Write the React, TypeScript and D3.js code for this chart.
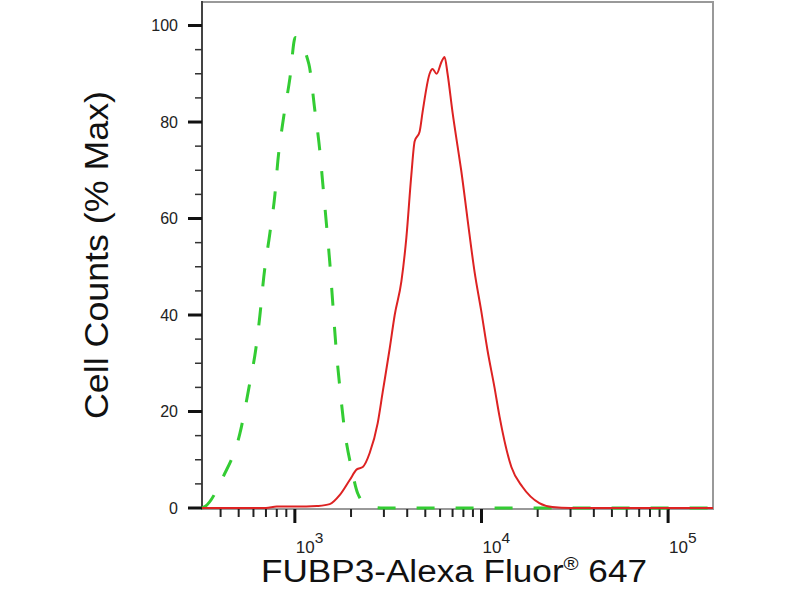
import { useEffect, useRef } from "react"
import * as d3 from "d3"

// Isotype control (green dashed): fluorescence intensity vs % max
const controlIntensity = [318, 330, 412, 508, 574, 618, 650, 682, 735, 782, 811, 863, 940, 1005, 1189, 1279, 1361, 1413, 1483, 1538, 1596, 1656, 1742, 1849, 2018, 2173, 2455, 3000, 10000, 174000]
const controlCounts = [0, 0.3, 6.4, 15.5, 26, 33, 40, 48, 57, 65, 72, 80, 89, 97.5, 92, 82.5, 74, 67, 58, 51, 42.5, 34, 25, 16, 8, 3, 0.5, 0, 0, 0]

// FUBP3 stained sample (red)
const sampleIntensity = [318, 700, 800, 1150, 1312, 1538, 1742, 1968, 2147, 2311, 2517, 2779, 2955, 3221, 3428, 3724, 3957, 4208, 4385, 4660, 4832, 5272, 5470, 5745, 6109, 6342, 6580, 6998, 7444, 7785, 8410, 9178, 9954, 10770, 11740, 12490, 14460, 16560, 20420, 23970, 30000, 174000]
const sampleCounts = [0, 0, 0.3, 0.3, 0.4, 0.8, 2.7, 5.8, 8, 8.5, 11.4, 17.6, 24, 33, 40, 47, 56, 69, 76, 78, 82, 90, 91, 90, 92.5, 93.5, 90, 82, 75, 70, 60, 49, 41, 32.7, 25, 19, 8.5, 4.4, 1, 0.2, 0, 0]

const yMajorTicks = [0, 20, 40, 60, 80, 100]
const decadeTicks = [1000, 10000, 100000]
const decadeExponents = ["3", "4", "5"]

export default function App() {
  const svgRef = useRef<SVGSVGElement>(null)

  useEffect(() => {
    if (!svgRef.current) return
    const root = d3.select(svgRef.current)
    root.selectAll("*").remove()

    const left = 202
    const right = 713
    const top = 2
    const bottom = 508

    const x = d3.scaleLog().domain([318, 174000]).range([left, right])
    const y = d3.scaleLinear().domain([0, 105]).range([bottom, top - 0.6])

    // frame
    root
      .append("rect")
      .attr("x", left)
      .attr("y", top)
      .attr("width", right - left)
      .attr("height", bottom + 1 - top)
      .attr("fill", "#fff")
      .attr("stroke", "#999")
      .attr("stroke-width", 2)

    // left axis line
    root
      .append("line")
      .attr("x1", left)
      .attr("x2", left)
      .attr("y1", top - 1)
      .attr("y2", bottom + 1)
      .attr("stroke", "#444")
      .attr("stroke-width", 2)

    // y ticks
    const yMinor = d3.range(0, 105, 5).filter((v) => v % 20 !== 0)
    root
      .selectAll(".ymin")
      .data(yMinor)
      .enter()
      .append("line")
      .attr("x1", left - 7)
      .attr("x2", left)
      .attr("y1", (d) => y(d))
      .attr("y2", (d) => y(d))
      .attr("stroke", "#333")
      .attr("stroke-width", 1.5)

    root
      .selectAll(".ymaj")
      .data(yMajorTicks)
      .enter()
      .append("line")
      .attr("x1", left - 14)
      .attr("x2", left)
      .attr("y1", (d) => y(d))
      .attr("y2", (d) => y(d))
      .attr("stroke", "#111")
      .attr("stroke-width", 3)

    root
      .selectAll(".ylab")
      .data(yMajorTicks)
      .enter()
      .append("text")
      .attr("x", left - 24)
      .attr("y", (d) => y(d))
      .attr("dy", "0.36em")
      .attr("text-anchor", "end")
      .style("font-family", "Liberation Sans, Arial, sans-serif")
      .style("font-size", "16px")
      .style("fill", "#222")
      .text((d) => d)

    // x ticks (log minor)
    const minor: number[] = []
    for (const dec of [100, 1000, 10000, 100000]) {
      for (let m = 2; m <= 9; m++) {
        const v = dec * m
        if (v > 318 && v < 174000) minor.push(v)
      }
    }
    root
      .selectAll(".xmin")
      .data(minor)
      .enter()
      .append("line")
      .attr("x1", (d) => x(d))
      .attr("x2", (d) => x(d))
      .attr("y1", bottom + 1)
      .attr("y2", bottom + 9)
      .attr("stroke", "#222")
      .attr("stroke-width", 2)

    root
      .selectAll(".xmaj")
      .data(decadeTicks)
      .enter()
      .append("line")
      .attr("x1", (d) => x(d))
      .attr("x2", (d) => x(d))
      .attr("y1", bottom + 1)
      .attr("y2", bottom + 15)
      .attr("stroke", "#111")
      .attr("stroke-width", 3)

    const xl = root
      .selectAll(".xlab")
      .data(decadeTicks)
      .enter()
      .append("text")
      .attr("x", (d) => x(d) + 1)
      .attr("y", 552.5)
      .attr("text-anchor", "start")
      .style("font-family", "Liberation Sans, Arial, sans-serif")
      .style("fill", "#222")
    xl.append("tspan").style("font-size", "17px").text("10")
    xl.append("tspan")
      .attr("dy", -10)
      .style("font-size", "15.5px")
      .text((d, i) => decadeExponents[i])

    // curves
    const line = d3
      .line<[number, number]>()
      .x((d) => x(d[0]))
      .y((d) => y(d[1]))
      .curve(d3.curveMonotoneX)

    const control = controlIntensity.map((v, i) => [v, controlCounts[i]] as [number, number])
    const sample = sampleIntensity.map((v, i) => [v, sampleCounts[i]] as [number, number])

    root
      .append("path")
      .datum(control)
      .attr("fill", "none")
      .attr("stroke", "#33cc33")
      .attr("stroke-width", 3)
      .attr("stroke-dasharray", "18,21")
      .attr("d", line)

    root
      .append("path")
      .datum(sample)
      .attr("fill", "none")
      .attr("stroke", "#dd2222")
      .attr("stroke-width", 2)
      .attr("d", line)

    // axis titles
    root
      .append("text")
      .attr("transform", "translate(108,255) rotate(-90)")
      .attr("text-anchor", "middle")
      .attr("textLength", 328)
      .attr("lengthAdjust", "spacingAndGlyphs")
      .style("font-family", "Liberation Sans, Arial, sans-serif")
      .style("font-size", "33px")
      .style("fill", "#111")
      .text("Cell Counts (% Max)")

    const xt = root
      .append("text")
      .attr("x", 454)
      .attr("y", 582)
      .attr("text-anchor", "middle")
      .attr("textLength", 386)
      .attr("lengthAdjust", "spacingAndGlyphs")
      .style("font-family", "Liberation Sans, Arial, sans-serif")
      .style("font-size", "31px")
      .style("fill", "#111")
    xt.append("tspan").text("FUBP3-Alexa Fluor")
    xt.append("tspan").attr("dy", -12).style("font-size", "18px").text("®")
    xt.append("tspan").attr("dy", 12).text(" 647")
  }, [])

  return (
    <svg
      ref={svgRef}
      width={800}
      height={600}
      style={{ position: "absolute", left: 0, top: 0, background: "#fff" }}
    ></svg>
  )
}
